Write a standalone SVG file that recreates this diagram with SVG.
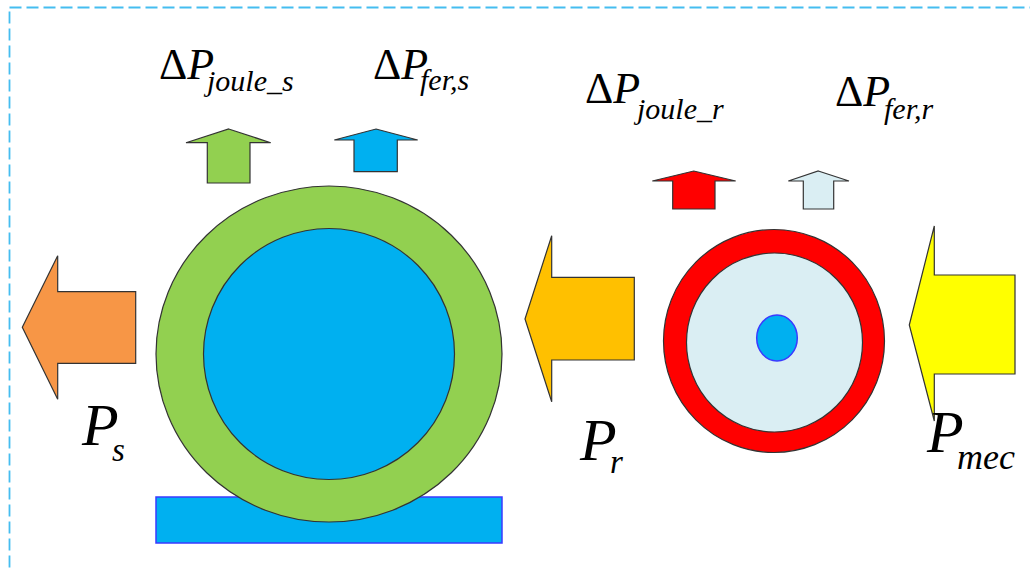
<svg xmlns="http://www.w3.org/2000/svg" width="1030" height="570" viewBox="0 0 1030 570">
  <style>
    .outline { stroke: #333333; stroke-width: 1.2; }
    .lbl { font-family: "Liberation Serif", "Times New Roman", serif; fill: #000000; }
    .it { font-style: italic; }
  </style>

  <rect width="1030" height="570" fill="#ffffff"/>
  <!-- frame -->
  <rect x="9.5" y="7.5" width="1040" height="600" fill="none" stroke="#45bdf0" stroke-width="1.8" stroke-dasharray="12 5"/>

  <!-- stator: base plate and rings -->
  <g id="stator">
    <rect x="156" y="497" width="346" height="46" fill="#00b0f0" stroke="#3a3aff" stroke-width="1.5"/>
    <ellipse cx="329" cy="354" rx="173" ry="168" fill="#92d050" class="outline"/>
    <ellipse cx="329" cy="354" rx="125.5" ry="125.5" fill="#00b0f0" class="outline"/>
  </g>

  <!-- rotor -->
  <g id="rotor">
    <ellipse cx="774" cy="341" rx="110.5" ry="111.5" fill="#ff0000" class="outline"/>
    <ellipse cx="774.5" cy="342.5" rx="88" ry="89.5" fill="#daeef3" class="outline"/>
    <ellipse cx="777" cy="338" rx="20.3" ry="23" fill="#00b0f0" stroke="#3a3aff" stroke-width="1.5"/>
  </g>

  <!-- power flow arrows -->
  <g id="connectors">
    <polygon id="arrow-ps" points="22.3,327.3 57.7,255.7 57.7,291.7 135.7,291.7 135.7,363.3 57.7,363.3 57.7,399.3" fill="#f79646" class="outline"/>
    <polygon id="arrow-pr" points="525,319 551.7,235.7 551.7,277.3 634.3,277.3 634.3,360 551.7,360 551.7,401.7" fill="#ffc000" class="outline"/>
    <polygon id="arrow-pmec" points="909.3,325 934.3,226 934.3,275 1015,275 1015,374 934.3,374 934.3,421" fill="#ffff00" class="outline"/>

    <polygon id="arrow-joule-s" points="228.7,129 270.7,142.7 250,142.7 250,183 207.3,183 207.3,142.7 186,142.7" fill="#92d050" class="outline"/>
    <polygon id="arrow-fer-s" points="376,129 417.7,140 397.3,140 397.3,171.7 354,171.7 354,140 334.3,140" fill="#00b0f0" class="outline"/>
    <polygon id="arrow-joule-r" points="693.7,171 735.7,181 715,181 715,209 672.7,209 672.7,181 652.3,181" fill="#ff0000" class="outline"/>
    <polygon id="arrow-fer-r" points="818.3,171 849,181 833.7,181 833.7,209 803.3,209 803.3,181 788.3,181" fill="#daeef3" class="outline"/>
  </g>

  <!-- loss labels -->
  <g id="label-joule-s" class="lbl">
    <text x="159" y="79" font-size="44">Δ<tspan class="it">P</tspan></text>
    <text x="207" y="91" font-size="30" class="it">joule_s</text>
  </g>
  <g id="label-fer-s" class="lbl">
    <text x="373" y="78.5" font-size="44">Δ<tspan class="it">P</tspan></text>
    <text x="420" y="89.5" font-size="30" class="it">fer,s</text>
  </g>
  <g id="label-joule-r" class="lbl">
    <text x="585" y="103" font-size="44">Δ<tspan class="it">P</tspan></text>
    <text x="637" y="118.5" font-size="30" class="it">joule_r</text>
  </g>
  <g id="label-fer-r" class="lbl">
    <text x="835" y="106" font-size="44">Δ<tspan class="it">P</tspan></text>
    <text x="884" y="118.5" font-size="30" class="it">fer,r</text>
  </g>

  <!-- power labels -->
  <g id="label-ps" class="lbl">
    <text x="82" y="445" font-size="60" class="it">P</text>
    <text x="112" y="460.5" font-size="33" class="it">s</text>
  </g>
  <g id="label-pr" class="lbl">
    <text x="580" y="459.5" font-size="60" class="it">P</text>
    <text x="610" y="472.5" font-size="33" class="it">r</text>
  </g>
  <g id="label-pmec" class="lbl">
    <text x="927" y="451.5" font-size="60" class="it">P</text>
    <text x="957" y="468.5" font-size="36" class="it">mec</text>
  </g>
</svg>
